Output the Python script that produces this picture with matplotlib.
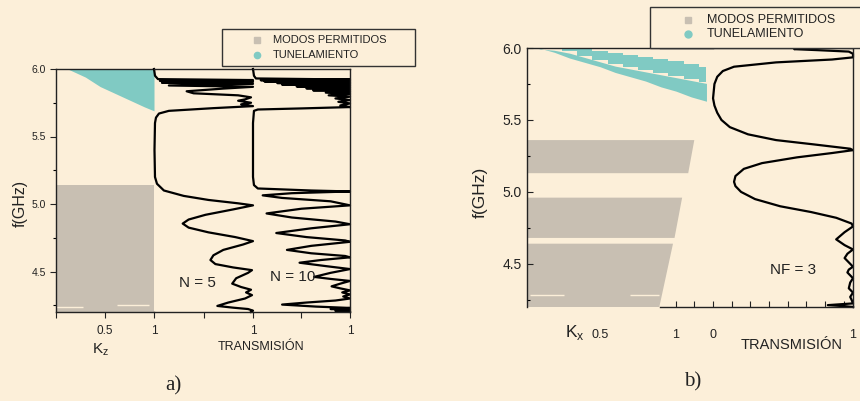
import matplotlib.pyplot as plt
from matplotlib.patches import Rectangle

plt.rcParams['font.family'] = ['Liberation Sans', 'DejaVu Sans']

W, H = 860, 401
BG = "#fcefd9"
GRAY = "#c8bfb2"
TEAL = "#80cac3"
INK = "#222222"

# ---- panel a) data ----
# allowed modes (gray block) and tunnelling (teal wedge) in Kz
kz_modes = [0.0, 1.0]
fa_modes_low = [4.20, 4.20]
fa_modes_high = [5.14, 5.14]
gaps_a = [(4.240, 0.00, 0.28), (4.255, 0.62, 0.95)]

kz_tun = [0.12, 0.30, 0.45, 0.60, 0.75, 0.90, 1.00]
fa_tun_low = [6.00, 5.94, 5.87, 5.82, 5.77, 5.72, 5.69]

# transmission N = 5 (frequency, T)
f_n5 = [6.000, 5.950, 5.925, 5.918, 5.912, 5.905, 5.898, 5.890, 5.878, 5.868,
        5.855, 5.835, 5.820, 5.805, 5.790, 5.775, 5.765, 5.750, 5.738, 5.725,
        5.710, 5.690, 5.670, 5.640, 5.600, 5.400, 5.200, 5.150, 5.100, 5.060,
        5.030, 5.005, 4.990, 4.960, 4.920, 4.885, 4.855, 4.825, 4.790, 4.755,
        4.725, 4.700, 4.660, 4.620, 4.585, 4.555, 4.530, 4.510, 4.490, 4.450,
        4.410, 4.385, 4.365, 4.345, 4.325, 4.300, 4.270, 4.245, 4.232, 4.222,
        4.210, 4.200]
t_n5 = [0.00, 0.01, 0.04, 1.00, 0.06, 1.00, 0.08, 1.00, 0.15, 1.00,
        0.70, 0.33, 0.40, 0.85, 0.98, 0.92, 0.85, 0.98, 0.88, 1.00,
        0.60, 0.15, 0.05, 0.02, 0.01, 0.005, 0.01, 0.03, 0.10, 0.30,
        0.55, 0.85, 1.00, 0.80, 0.52, 0.35, 0.29, 0.35, 0.55, 0.82,
        1.00, 0.90, 0.70, 0.60, 0.57, 0.62, 0.80, 0.99, 0.95, 0.83,
        0.79, 0.88, 0.98, 0.93, 0.99, 0.92, 0.75, 0.64, 0.80, 0.95,
        1.00, 0.98]

# transmission N = 10
f_n10 = [6.000, 5.950, 5.930, 5.922, 5.917, 5.912, 5.907, 5.902, 5.896, 5.890,
         5.884, 5.878, 5.871, 5.864, 5.857, 5.850, 5.842, 5.834, 5.825, 5.815,
         5.805, 5.795, 5.782, 5.770, 5.757, 5.745, 5.730, 5.718, 5.708, 5.700,
         5.690, 5.600, 5.200, 5.140, 5.115, 5.100, 5.093, 5.080, 5.064, 5.045,
         5.020, 4.990, 4.965, 4.930, 4.900, 4.870, 4.850, 4.820, 4.785, 4.755,
         4.730, 4.720, 4.690, 4.660, 4.635, 4.615, 4.605, 4.585, 4.565, 4.540,
         4.518, 4.490, 4.460, 4.445, 4.430, 4.410, 4.390, 4.375, 4.360, 4.345,
         4.330, 4.315, 4.300, 4.285, 4.270, 4.255, 4.240, 4.230, 4.222, 4.215,
         4.208, 4.200]
t_n10 = [0.00, 0.01, 0.03, 1.00, 0.08, 1.00, 0.12, 1.00, 0.25, 1.00,
         0.30, 1.00, 0.45, 1.00, 0.55, 1.00, 0.62, 1.00, 0.75, 1.00,
         0.78, 1.00, 0.85, 1.00, 0.88, 1.00, 0.90, 1.00, 0.50, 0.05,
         0.01, 0.00, 0.00, 0.01, 0.05, 0.60, 1.00, 0.40, 0.10, 0.30,
         0.80, 1.00, 0.50, 0.14, 0.40, 0.85, 1.00, 0.60, 0.24, 0.55,
         0.95, 1.00, 0.60, 0.35, 0.60, 0.95, 1.00, 0.70, 0.48, 0.75,
         1.00, 0.80, 0.63, 0.80, 1.00, 0.90, 0.81, 0.90, 1.00, 0.92,
         1.00, 0.93, 1.00, 0.85, 0.55, 0.30, 0.65, 1.00, 0.80, 1.00,
         0.85, 1.00]

# ---- panel b) data ----
fb_band_top = [5.36, 4.96, 4.64]
fb_band_bot = [5.13, 4.68, 4.20]
kx_band_top = [1.12, 1.04, 0.98]
kx_band_bot = [1.08, 0.99, 0.89]
gaps_b = [(4.285, 0.04, 0.26), (4.285, 0.70, 0.89)]

kx_tun = [0.10, 0.20, 0.30, 0.40, 0.50, 0.60, 0.70, 0.80, 0.90, 1.00, 1.10, 1.20]
fb_tun_low = [6.00, 5.97, 5.93, 5.90, 5.87, 5.83, 5.80, 5.77, 5.73, 5.70, 5.66, 5.63]
fb_tun_mid = [6.00, 5.99, 5.97, 5.94, 5.91, 5.88, 5.86, 5.84, 5.82, 5.80, 5.78, 5.76]
fb_tun_top = [6.00, 6.00, 6.00, 5.99, 5.98, 5.965, 5.95, 5.94, 5.925, 5.91, 5.89, 5.87]

f_nf3 = [6.000, 5.992, 5.985, 5.975, 5.960, 5.935, 5.920, 5.900, 5.870, 5.840,
         5.800, 5.750, 5.650, 5.600, 5.550, 5.500, 5.450, 5.400, 5.360, 5.330,
         5.300, 5.290, 5.270, 5.240, 5.200, 5.160, 5.110, 5.070, 5.040, 5.000,
         4.950, 4.900, 4.860, 4.820, 4.780, 4.760, 4.720, 4.670, 4.630, 4.600,
         4.570, 4.540, 4.510, 4.480, 4.460, 4.440, 4.420, 4.400, 4.370, 4.330,
         4.300, 4.270, 4.250, 4.225, 4.213, 4.205, 4.200]
t_nf3 = [0.62, 0.58, 0.75, 0.97, 1.00, 1.00, 0.85, 0.45, 0.15, 0.07,
         0.03, 0.01, 0.00, 0.01, 0.03, 0.06, 0.12, 0.25, 0.45, 0.72,
         0.98, 1.00, 0.85, 0.60, 0.35, 0.22, 0.16, 0.15, 0.16, 0.20,
         0.30, 0.48, 0.70, 0.88, 0.99, 1.00, 0.94, 0.88, 0.94, 1.00,
         0.96, 0.94, 0.97, 1.00, 0.97, 0.96, 0.98, 1.00, 0.98, 0.97,
         1.00, 0.98, 0.99, 1.00, 0.82, 0.95, 1.00]

f_ticks = [4.5, 5.0, 5.5, 6.0]
f_minor = [4.25, 4.75, 5.25, 5.75]


def px_axes(fig, x0, x1, y0, y1):
    ax = fig.add_axes([x0 / W, 1 - y1 / H, (x1 - x0) / W, (y1 - y0) / H])
    ax.set_facecolor("none")
    ax.set_ylim(4.2, 6.0)
    for s in ax.spines.values():
        s.set_color(INK)
        s.set_linewidth(1.0)
    ax.tick_params(colors=INK, labelcolor=INK)
    return ax


fig = plt.figure(figsize=(W / 100, H / 100), dpi=100, facecolor=BG)

# ================= panel a =================
ax_kz = px_axes(fig, 56, 154, 69, 312)
ax_kz.set_xlim(0, 1)
ax_kz.fill_between(kz_modes, fa_modes_low, fa_modes_high, color=GRAY, lw=0)
for f, k0, k1 in gaps_a:
    ax_kz.hlines(f, k0, k1, color=BG, lw=1.0)
ax_kz.fill_between(kz_tun, fa_tun_low, 6.0, color=TEAL, lw=0)
ax_kz.spines["right"].set_visible(False)
ax_kz.set_yticks(f_ticks, [f"{v:.1f}" for v in f_ticks])
ax_kz.set_yticks(f_minor, minor=True)
ax_kz.set_xticks([0, 0.5, 1], ["", "0.5", "1"])
ax_kz.tick_params(direction="out", length=4, width=0.8, labelsize=7.5, pad=3)
ax_kz.tick_params(axis="x", labelsize=8.5, pad=5)
ax_kz.tick_params(which="minor", direction="out", length=2.5, width=0.8)

for x0, x1, ff, tt, last in [(154, 253, f_n5, t_n5, False),
                             (253, 350, f_n10, t_n10, True)]:
    ax = px_axes(fig, x0, x1, 69, 312)
    ax.set_xlim(0, 1)
    ax.plot(tt, ff, color="black", lw=1.6, clip_on=False, solid_joinstyle="round")
    ax.spines["left"].set_visible(False)
    ax.spines["right"].set_visible(last)
    ax.set_yticks([])
    ax.set_xticks([0.5, 1.0], ["", "1"])
    ax.tick_params(direction="out", length=4, width=0.8, labelsize=8.5, pad=5)

# ================= panel b =================
ax_kx = px_axes(fig, 527, 713, 48, 307)
ax_kx.set_xlim(0.02, 1.243)
for ft, fb, kt, kb in zip(fb_band_top, fb_band_bot, kx_band_top, kx_band_bot):
    ax_kx.fill([0, kt, kb, 0], [ft, ft, fb, fb], color=GRAY, lw=0)
for f, k0, k1 in gaps_b:
    ax_kx.hlines(f, k0, k1, color=BG, lw=1.0)
ax_kx.fill_between(kx_tun, fb_tun_low, [m - 0.006 for m in fb_tun_mid],
                   color=TEAL, lw=0)
ax_kx.fill_between(kx_tun, [m + 0.006 for m in fb_tun_mid], fb_tun_top,
                   color=TEAL, lw=0, step="mid")
ax_kx.spines["bottom"].set_visible(False)
ax_kx.spines["right"].set_visible(False)
ax_kx.set_yticks(f_ticks, [f"{v:.1f}" for v in f_ticks])
ax_kx.set_yticks(f_minor, minor=True)
ax_kx.tick_params(axis="y", direction="in", length=4, width=0.8, labelsize=10, pad=4)
ax_kx.tick_params(axis="y", which="minor", direction="in", length=2.5, width=0.8)
ax_kx.set_xticks([0.5, 1.0], ["0.5", "1"])
ax_kx.tick_params(axis="x", length=0, labelsize=9, pad=16)

ax_tb = px_axes(fig, 660, 853, 48, 307)
ax_tb.set_xlim(-0.379, 1.0)
ax_tb.plot(t_nf3, f_nf3, color="black", lw=1.6, clip_on=False)
ax_tb.spines["left"].set_visible(False)
ax_tb.set_yticks([])
tb_ticks = [-0.267, -0.133, 0.0, 0.133, 0.267, 0.4, 0.533, 0.667, 0.8, 0.933, 1.0]
tb_labels = ["" if t not in (0.0, 1.0) else f"{t:.0f}" for t in tb_ticks]
ax_tb.set_xticks(tb_ticks, tb_labels)
ax_tb.tick_params(axis="x", direction="in", length=4, width=0.8, labelsize=9, pad=16)

# ================= annotations / legends =================
ov = fig.add_axes([0, 0, 1, 1])
ov.set_xlim(0, W)
ov.set_ylim(H, 0)
ov.axis("off")

# legend a
ov.add_patch(Rectangle((222, 29), 193, 37, fc=BG, ec="#333333", lw=1.0))
ov.plot(257, 40, "s", color=GRAY, ms=4)
ov.plot(257, 55, "o", color=TEAL, ms=4.5)
ov.text(273, 40, "MODOS PERMITIDOS", fontsize=8, va="center", color=INK)
ov.text(273, 55, "TUNELAMIENTO", fontsize=8, va="center", color=INK)

# legend b
ov.add_patch(Rectangle((650, 7), 225, 40.5, fc=BG, ec="#333333", lw=1.0,
                       clip_on=False))
ov.plot(688, 20, "s", color=GRAY, ms=4.5)
ov.plot(688, 34, "o", color=TEAL, ms=5)
ov.text(707, 20, "MODOS PERMITIDOS", fontsize=9, va="center", color=INK)
ov.text(707, 34, "TUNELAMIENTO", fontsize=9, va="center", color=INK)

txt = dict(ha="center", va="center", color=INK)
ov.text(20, 203, "f(GHz)", rotation=90, fontsize=11.5, **txt)
ov.text(197, 283, "N = 5", fontsize=11, **txt)
ov.text(293, 277, "N = 10", fontsize=11, **txt)
ov.text(101, 350, r"K$_\mathregular{z}$", fontsize=11, **txt)
ov.text(261, 347, "TRANSMISIÓN", fontsize=9, **txt)
ov.text(173, 386, "a)", fontsize=15, family="Liberation Serif", **txt)

ov.text(480, 192, "f(GHz)", rotation=90, fontsize=12.5, **txt)
ov.text(793, 270, "NF = 3", fontsize=11, **txt)
ov.text(575, 332, r"K$_\mathregular{x}$", fontsize=12.5, **txt)
ov.text(792, 345, "TRANSMISIÓN", fontsize=10.5, **txt)
ov.text(693, 382, "b)", fontsize=15, family="Liberation Serif", **txt)

fig.savefig("out.png", dpi=100, facecolor=BG)
